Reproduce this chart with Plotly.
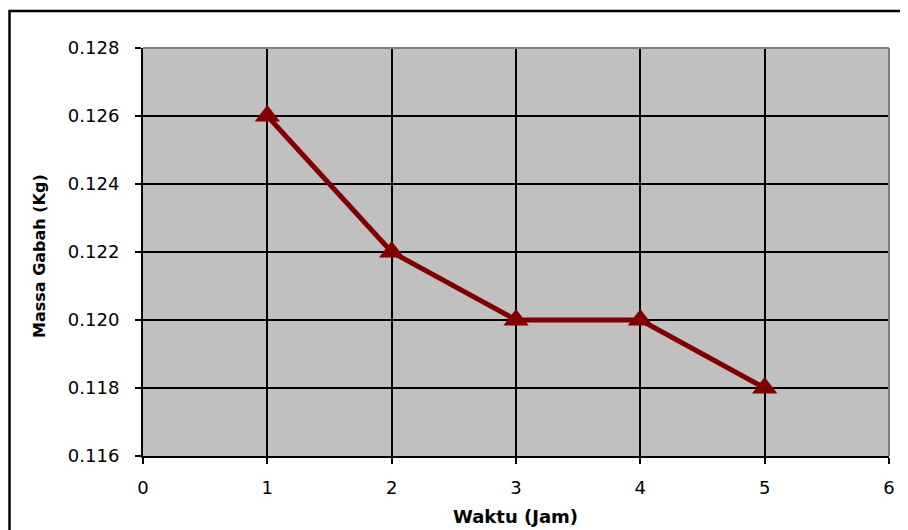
import plotly.graph_objects as go

waktu = [1, 2, 3, 4, 5]
massa = [0.126, 0.122, 0.120, 0.120, 0.118]
x_ticks = [0, 1, 2, 3, 4, 5, 6]
y_ticks = [0.116, 0.118, 0.120, 0.122, 0.124, 0.126, 0.128]

# page has an 8px body margin, so the figure is 900x522 inside a 908x530 window
W, H = 900, 522
L, T = 135, 40
pw, ph = 746, 408
R, B = W - L - pw, H - T - ph

fig = go.Figure()
fig.add_trace(go.Scatter(
    x=waktu, y=massa, mode="lines+markers",
    line=dict(color="#800000", width=5),
    marker=dict(symbol="triangle-up", size=22, color="#800000",
                line=dict(width=0)),
    showlegend=False, cliponaxis=False,
))

tfont = dict(family="DejaVu Sans, Liberation Sans, Arial, sans-serif", color="black")
axis_common = dict(showgrid=True, gridcolor="black", gridwidth=2,
                   showline=True, linecolor="black", linewidth=2,
                   ticks="outside", ticklen=6, tickwidth=2, tickcolor="black",
                   tickfont=dict(size=18, **tfont), zeroline=False, automargin=False)
fig.update_layout(
    width=W, height=H,
    margin=dict(l=L, r=R, t=T, b=B, pad=0),
    paper_bgcolor="white", plot_bgcolor="#C0C0C0",
    font=tfont,
    xaxis=dict(range=[0, 6], tickvals=x_ticks, ticktext=[str(v) for v in x_ticks],
               ticklabelstandoff=8, **axis_common),
    yaxis=dict(range=[0.116, 0.128], tickvals=y_ticks,
               ticktext=[f"{v:.3f}" for v in y_ticks],
               ticklabelstandoff=12, **axis_common),
    annotations=[
        dict(text="<b>Waktu (Jam)</b>", xref="paper", yref="paper",
             x=(507 - L) / pw, y=-(509 - T - ph) / ph, xanchor="center", yanchor="middle",
             showarrow=False, font=dict(size=18, **tfont)),
        dict(text="<b>Massa Gabah (Kg)</b>", xref="paper", yref="paper", textangle=-90,
             x=(31 - L) / pw, y=1 - (248 - T) / ph, xanchor="center", yanchor="middle",
             showarrow=False, font=dict(size=16, **tfont)),
    ],
    shapes=[
        # gray top/right plot border
        dict(type="line", xref="paper", yref="paper", x0=0, x1=1, y0=1, y1=1,
             line=dict(color="#808080", width=2), layer="above"),
        dict(type="line", xref="paper", yref="paper", x0=1, x1=1, y0=0, y1=1,
             line=dict(color="#808080", width=2), layer="above"),
        # outer chart border
        dict(type="rect", xref="paper", yref="paper",
             x0=(1.5 - L) / pw, x1=1 + (R + 10) / pw,
             y0=-(B + 10) / ph, y1=1 + (T - 3) / ph,
             line=dict(color="black", width=2.5), layer="below"),
    ],
)
fig.write_html("out.html")
